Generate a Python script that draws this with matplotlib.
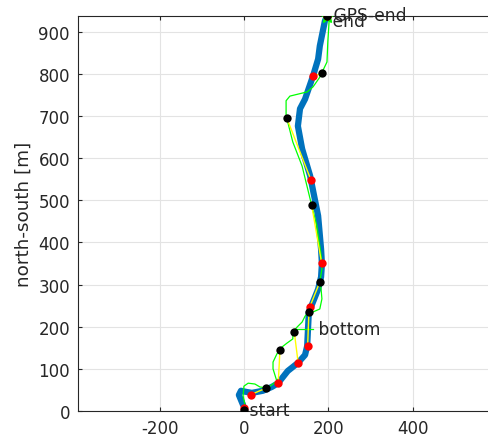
import matplotlib
matplotlib.use('Agg')
import matplotlib.pyplot as plt
import matplotlib.ticker as mticker
import numpy as np

# track (blue), east / north in metres
track_x = [-2, -12, -7, 7, 19, 45, 66, 81, 104, 128, 145, 150, 152, 154, 164, 176,
           183, 185, 183, 176, 157, 138, 128, 133, 145, 164, 176, 180, 192, 197]
track_y = [14, 38, 48, 45, 43, 48, 57, 66, 95, 114, 133, 154, 195, 235, 259, 289,
           318, 349, 384, 463, 558, 622, 676, 717, 740, 795, 835, 866, 925, 937]

# GPS trace (green)
gps_x = [0, 2, -2, 0, 10, 26, 38, 52, 62, 78, 69, 69, 78, 88, 102, 116, 116, 126,
         138, 145, 154, 164, 180, 185, 183, 180, 185, 183, 173, 157, 138, 116, 102,
         100, 100, 109, 150, 164, 180, 185, 187, 197, 199, 202, 197]
gps_y = [5, 17, 36, 59, 66, 64, 57, 55, 59, 71, 100, 116, 135, 150, 161, 171, 187,
         199, 211, 225, 235, 235, 242, 266, 289, 306, 337, 370, 439, 503, 581, 638,
         693, 700, 736, 747, 757, 769, 792, 802, 807, 828, 876, 923, 942]
branch_x = [119, 164]
branch_y = [194.5, 194.5]

# GPS fixes (black) and matching track points (red)
fix_x = [0, 51.5, 85.4, 119.3, 154.2, 180.3, 160.6, 102.0, 186.2, 196.2]
fix_y = [3, 53.9, 144.0, 188.1, 235.6, 306.8, 488.7, 694.0, 801.2, 936.4]
match_x = [0, 15.9, 81.4, 128.8, 151.1, 156.6, 184.3, 159.0, 163.0, 196.2]
match_y = [7.1, 38.7, 65.7, 113.2, 154.2, 247.9, 351.1, 548.0, 794.1, 936.0]

gps_end = (197, 938)
labels = [(' start', 0, 3), (' bottom', 164, 194.5), (' end', 197, 926), (' GPS-end', 199, 940)]

fig = plt.figure(figsize=(4.89, 4.39), dpi=100)
ax = fig.add_axes([0.1601, 0.0615, 0.8399, 0.9005])

ax.plot(track_x, track_y, color=(0, 0.447, 0.741), linewidth=4.5, solid_capstyle='round',
        solid_joinstyle='round', zorder=3)
ax.plot(gps_x, gps_y, color=(0, 1, 0), linewidth=0.9, zorder=4)
ax.plot(branch_x, branch_y, color=(0, 1, 0), linewidth=0.9, zorder=4)
for fx, fy, mx, my in zip(fix_x, fix_y, match_x, match_y):
    ax.plot([fx, mx], [fy, my], color=(1, 1, 0), linewidth=1.0, zorder=5)
ax.plot(gps_end[0], gps_end[1], marker='*', color=(0, 1, 0), markersize=11,
        linestyle='none', zorder=5)
ax.plot(match_x, match_y, 'o', color='red', markersize=6, markeredgewidth=0, zorder=6)
ax.plot(fix_x, fix_y, 'o', color='black', markersize=6, markeredgewidth=0, zorder=7)

for txt, tx, ty in labels:
    ax.text(tx, ty, txt, fontsize=12.3, color='#262626', ha='left', va='center', zorder=8)

ax.set_xlim(-393, 581.4)
ax.set_ylim(0, 937.8)
ax.set_xticks([-200, 0, 200, 400])
ax.set_yticks(np.arange(0, 901, 100))
ax.xaxis.set_major_formatter(mticker.FuncFormatter(lambda v, p: f'{v:.0f}'))
ax.grid(True, color='#e3e3e3', linewidth=0.8)
ax.set_axisbelow(True)
ax.tick_params(direction='in', length=3, labelsize=12, colors='#262626',
               top=True, right=False, pad=6)
for side in ['left', 'bottom', 'top']:
    ax.spines[side].set_color('#262626')
    ax.spines[side].set_linewidth(0.8)
ax.spines['right'].set_visible(False)
ax.set_ylabel('north-south [m]', fontsize=13.2, color='#262626', labelpad=4)

fig.savefig('out.png', dpi=100)
